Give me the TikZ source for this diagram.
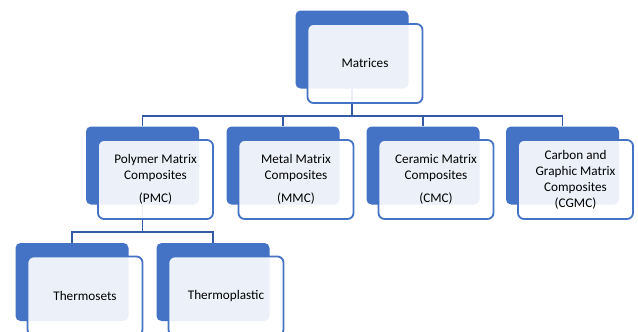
\documentclass[tikz,border=0pt]{standalone}
\usepackage{fontspec}
\setmainfont{Carlito}
\definecolor{boxblue}{RGB}{68,114,196}
\definecolor{linkblue}{RGB}{52,91,165}
\tikzset{
  backbox/.style={fill=boxblue, rounded corners=5pt, minimum width=113pt, minimum height=78pt, inner sep=0pt},
  frontbox/.style={draw=boxblue, line width=1.8pt, fill=white, fill opacity=0.9, text opacity=1,
    rounded corners=6pt, minimum width=115pt, minimum height=79pt, inner sep=0pt, align=center,
    xshift=13pt, yshift=-14pt},
  link/.style={draw=linkblue, line width=1.7pt}
}
\begin{document}
\begin{tikzpicture}[x=1pt, y=-1pt, every node/.style={font=\fontsize{13.2}{16}\selectfont}]
  \useasboundingbox (0,0) rectangle (638,332);
  \node[backbox] (top) at (352,49.5) {};
  \node[backbox] (pmc) at (142.5,165.5) {}; \node[backbox] (mmc) at (283,165.5) {};
  \node[backbox] (cmc) at (423,165.5) {}; \node[backbox] (cgmc) at (562.5,165.5) {};
  \node[backbox] (tset) at (72,282) {}; \node[backbox] (tplast) at (213,282) {};
  \draw[link] (top.south) -- ++(0,27.5) coordinate (hubA);
  \draw[link] (pmc.north) |- (hubA) -| (cgmc.north);
  \draw[link] (mmc.north) -- (mmc.north |- hubA); \draw[link] (cmc.north) -- (cmc.north |- hubA);
  \draw[link] (pmc.south) -- ++(0,27) coordinate (hubB);
  \draw[link] (tset.north) |- (hubB) -| (tplast.north);
  \node[frontbox] (topF) at (top) {Matrices};
  \node[frontbox] (pmcF) at (pmc) {Polymer Matrix\\Composites\\[7pt](PMC)};
  \node[frontbox] (mmcF) at (mmc) {Metal Matrix\\Composites\\[7pt](MMC)};
  \node[frontbox] (cmcF) at (cmc) {Ceramic Matrix\\Composites\\[7pt](CMC)};
  \node[frontbox] (cgmcF) at (cgmc) {Carbon and\\Graphic Matrix\\Composites\\(CGMC)};
  \node[frontbox] (tsetF) at (tset) {Thermosets};
  \node[frontbox] (tplastF) at (tplast) {Thermoplastic};
\end{tikzpicture}
\end{document}
